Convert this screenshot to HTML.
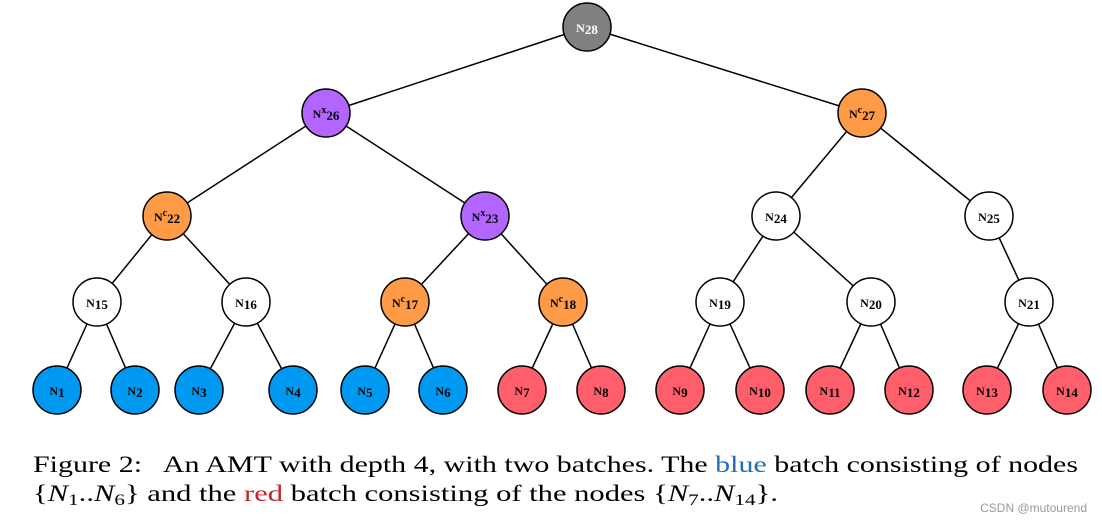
<!DOCTYPE html>
<html><head><meta charset="utf-8"><style>
body{margin:0;background:#fff;width:1102px;height:524px;overflow:hidden}
svg{display:block}
.l{font-family:"Liberation Serif",serif;font-weight:bold;font-size:12px;text-anchor:middle}
.c{font-family:"Liberation Serif",serif;font-size:23px;fill:#000;white-space:pre}
</style></head><body>
<svg width="1102" height="524" viewBox="0 0 1102 524">
<g stroke="#000" stroke-width="1.5">
<line x1="587" y1="27" x2="326" y2="113"/><line x1="587" y1="27" x2="862" y2="113"/>
<line x1="326" y1="113" x2="167" y2="216"/><line x1="326" y1="113" x2="485" y2="216"/>
<line x1="862" y1="113" x2="776" y2="216"/><line x1="862" y1="113" x2="989" y2="216"/>
<line x1="167" y1="216" x2="97" y2="302"/><line x1="167" y1="216" x2="246" y2="302"/>
<line x1="485" y1="216" x2="405" y2="302"/><line x1="485" y1="216" x2="563" y2="302"/>
<line x1="776" y1="216" x2="720" y2="302"/><line x1="776" y1="216" x2="871" y2="302"/>
<line x1="989" y1="216" x2="1029" y2="302"/>
<line x1="97" y1="302" x2="57" y2="390"/><line x1="97" y1="302" x2="135" y2="390"/>
<line x1="246" y1="302" x2="199" y2="390"/><line x1="246" y1="302" x2="293" y2="390"/>
<line x1="405" y1="302" x2="365" y2="390"/><line x1="405" y1="302" x2="443" y2="390"/>
<line x1="563" y1="302" x2="522" y2="390"/><line x1="563" y1="302" x2="601" y2="390"/>
<line x1="720" y1="302" x2="680" y2="390"/><line x1="720" y1="302" x2="760" y2="390"/>
<line x1="871" y1="302" x2="830" y2="390"/><line x1="871" y1="302" x2="909" y2="390"/>
<line x1="1029" y1="302" x2="987" y2="390"/><line x1="1029" y1="302" x2="1067" y2="390"/>
</g>
<g stroke="#000" stroke-width="1.5">
<circle cx="587" cy="27" r="24" fill="#808080"/>
<circle cx="326" cy="113" r="24" fill="#b266ff"/><circle cx="862" cy="113" r="24" fill="#ff9a47"/>
<circle cx="167" cy="216" r="24" fill="#ff9a47"/><circle cx="485" cy="216" r="24" fill="#b266ff"/>
<circle cx="776" cy="216" r="24" fill="#fff"/><circle cx="989" cy="216" r="24" fill="#fff"/>
<circle cx="97" cy="302" r="24" fill="#fff"/><circle cx="246" cy="302" r="24" fill="#fff"/>
<circle cx="405" cy="302" r="24" fill="#ff9a47"/><circle cx="563" cy="302" r="24" fill="#ff9a47"/>
<circle cx="720" cy="302" r="24" fill="#fff"/><circle cx="871" cy="302" r="24" fill="#fff"/>
<circle cx="1029" cy="302" r="24" fill="#fff"/>
<g fill="#0099f2"><circle cx="57" cy="390" r="24"/><circle cx="135" cy="390" r="24"/><circle cx="199" cy="390" r="24"/><circle cx="293" cy="390" r="24"/><circle cx="365" cy="390" r="24"/><circle cx="443" cy="390" r="24"/></g>
<g fill="#ff5f6b"><circle cx="522" cy="390" r="24"/><circle cx="601" cy="390" r="24"/><circle cx="680" cy="390" r="24"/><circle cx="760" cy="390" r="24"/><circle cx="830" cy="390" r="24"/><circle cx="909" cy="390" r="24"/><circle cx="987" cy="390" r="24"/><circle cx="1067" cy="390" r="24"/></g>
</g>
<g class="l">
<text x="587" y="32" fill="#fff">N<tspan font-size="13" dy="2">28</tspan></text>
<text x="326" y="118">N<tspan font-size="10" dy="-5">x</tspan><tspan font-size="13" dy="7">26</tspan></text>
<text x="862" y="118">N<tspan font-size="10" dy="-5">c</tspan><tspan font-size="13" dy="7">27</tspan></text>
<text x="167" y="221">N<tspan font-size="10" dy="-5">c</tspan><tspan font-size="13" dy="7">22</tspan></text>
<text x="485" y="221">N<tspan font-size="10" dy="-5">x</tspan><tspan font-size="13" dy="7">23</tspan></text>
<text x="776" y="221">N<tspan font-size="13" dy="2">24</tspan></text>
<text x="989" y="221">N<tspan font-size="13" dy="2">25</tspan></text>
<text x="97" y="307">N<tspan font-size="13" dy="2">15</tspan></text>
<text x="246" y="307">N<tspan font-size="13" dy="2">16</tspan></text>
<text x="405" y="307">N<tspan font-size="10" dy="-5">c</tspan><tspan font-size="13" dy="7">17</tspan></text>
<text x="563" y="307">N<tspan font-size="10" dy="-5">c</tspan><tspan font-size="13" dy="7">18</tspan></text>
<text x="720" y="307">N<tspan font-size="13" dy="2">19</tspan></text>
<text x="871" y="307">N<tspan font-size="13" dy="2">20</tspan></text>
<text x="1029" y="307">N<tspan font-size="13" dy="2">21</tspan></text>
<text x="57" y="395">N<tspan font-size="13" dy="2">1</tspan></text>
<text x="135" y="395">N<tspan font-size="13" dy="2">2</tspan></text>
<text x="199" y="395">N<tspan font-size="13" dy="2">3</tspan></text>
<text x="293" y="395">N<tspan font-size="13" dy="2">4</tspan></text>
<text x="365" y="395">N<tspan font-size="13" dy="2">5</tspan></text>
<text x="443" y="395">N<tspan font-size="13" dy="2">6</tspan></text>
<text x="522" y="395">N<tspan font-size="13" dy="2">7</tspan></text>
<text x="601" y="395">N<tspan font-size="13" dy="2">8</tspan></text>
<text x="680" y="395">N<tspan font-size="13" dy="2">9</tspan></text>
<text x="760" y="395">N<tspan font-size="13" dy="2">10</tspan></text>
<text x="830" y="395">N<tspan font-size="13" dy="2">11</tspan></text>
<text x="909" y="395">N<tspan font-size="13" dy="2">12</tspan></text>
<text x="987" y="395">N<tspan font-size="13" dy="2">13</tspan></text>
<text x="1067" y="395">N<tspan font-size="13" dy="2">14</tspan></text>
</g>
<text class="c" x="33" y="472" textLength="1045" lengthAdjust="spacingAndGlyphs" xml:space="preserve">Figure 2:   An AMT with depth 4, with two batches. The <tspan fill="#1f6fb5">blue</tspan> batch consisting of nodes</text>
<text class="c" x="33" y="501" textLength="745" lengthAdjust="spacingAndGlyphs">{<tspan font-style="italic">N</tspan><tspan font-size="16" dy="4">1</tspan><tspan dy="-4">..</tspan><tspan font-style="italic">N</tspan><tspan font-size="16" dy="4">6</tspan><tspan dy="-4">} and the </tspan><tspan fill="#c0282a">red</tspan> batch consisting of the nodes {<tspan font-style="italic">N</tspan><tspan font-size="16" dy="4">7</tspan><tspan dy="-4">..</tspan><tspan font-style="italic">N</tspan><tspan font-size="16" dy="4">14</tspan><tspan dy="-4">}.</tspan></text>
<text x="1087" y="512" font-family="Liberation Sans,sans-serif" font-size="12" fill="#999" text-anchor="end">CSDN @mutourend</text>
</svg>
</body></html>
